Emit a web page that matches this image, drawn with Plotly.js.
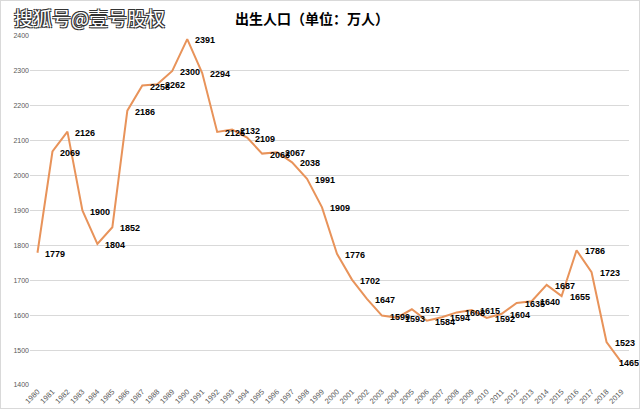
<!DOCTYPE html>
<html>
<head>
<meta charset="utf-8">
<script src="https://cdn.plot.ly/plotly-3.0.1.min.js"></script>
<style>
html,body{margin:0;padding:0;background:#fff;}
#chart{width:638px;height:407px;border:1px solid #d9d9d9;}
</style>
</head>
<body>
<div id="chart"></div>
<script>
const years = ["1980","1981","1982","1983","1984","1985","1986","1987","1988","1989",
  "1990","1991","1992","1993","1994","1995","1996","1997","1998","1999",
  "2000","2001","2002","2003","2004","2005","2006","2007","2008","2009",
  "2010","2011","2012","2013","2014","2015","2016","2017","2018","2019"];
const births = [1779,2069,2126,1900,1804,1852,2186,2258,2262,2300,
  2391,2294,2125,2132,2109,2063,2067,2038,1991,1909,
  1776,1702,1647,1599,1593,1617,1584,1594,1608,1615,
  1592,1604,1635,1640,1687,1655,1786,1723,1523,1465];
const titleText = "出生人口（单位：万人）";
const watermark = "搜狐号@壹号股权";

const trace = {
  x: years, y: births, type: "scatter", mode: "lines",
  line: {color: "#E8935A", width: 2},
  hoverinfo: "x+y", cliponaxis: false
};

const labelFont = {family: "Liberation Sans, Arial", size: 9, color: "#000", weight: "bold"};
const labels = years.map((yr, i) => ({
  x: i, y: births[i], xref: "x", yref: "y", text: String(births[i]),
  showarrow: false, xanchor: "left", yanchor: "middle",
  xshift: i === years.length - 1 ? -5 : 6, yshift: -1,
  font: labelFont
}));

const layout = {
  width: 638, height: 407,
  margin: {l: 29, r: 10, t: 35, b: 23},
  paper_bgcolor: "#fff", plot_bgcolor: "#fff",
  showlegend: false,
  xaxis: {type: "category", range: [-0.5, 39.5], tickangle: -45,
    tickfont: {family: "Liberation Sans, Arial", size: 7.5, color: "#595959"},
    showgrid: false, zeroline: false, showline: false, ticks: ""},
  yaxis: {range: [1400, 2400], dtick: 100, tick0: 1400,
    tickfont: {family: "Liberation Sans, Arial", size: 7, color: "#595959"},
    gridcolor: "#d9d9d9", gridwidth: 1, zeroline: false, showline: false, ticks: ""},
  annotations: labels.concat([
    {text: titleText, xref: "paper", yref: "paper", x: 0.47, y: 1, yshift: 6,
     yanchor: "bottom", xanchor: "center", showarrow: false,
     font: {family: "Noto Sans CJK SC", size: 14, color: "#000", weight: "bold"}},
    {text: watermark, xref: "paper", yref: "paper", x: -0.03, xanchor: "left",
     y: 1, yanchor: "bottom", yshift: 3, showarrow: false,
     font: {family: "Noto Sans CJK SC", size: 19, color: "#fff",
       shadow: "-1px -1px 0 #333, 1px -1px 0 #333, -1px 1px 0 #333, 1px 1px 0 #333"}}
  ])
};

Plotly.newPlot("chart", [trace], layout, {displayModeBar: false, staticPlot: true});
</script>
</body>
</html>
